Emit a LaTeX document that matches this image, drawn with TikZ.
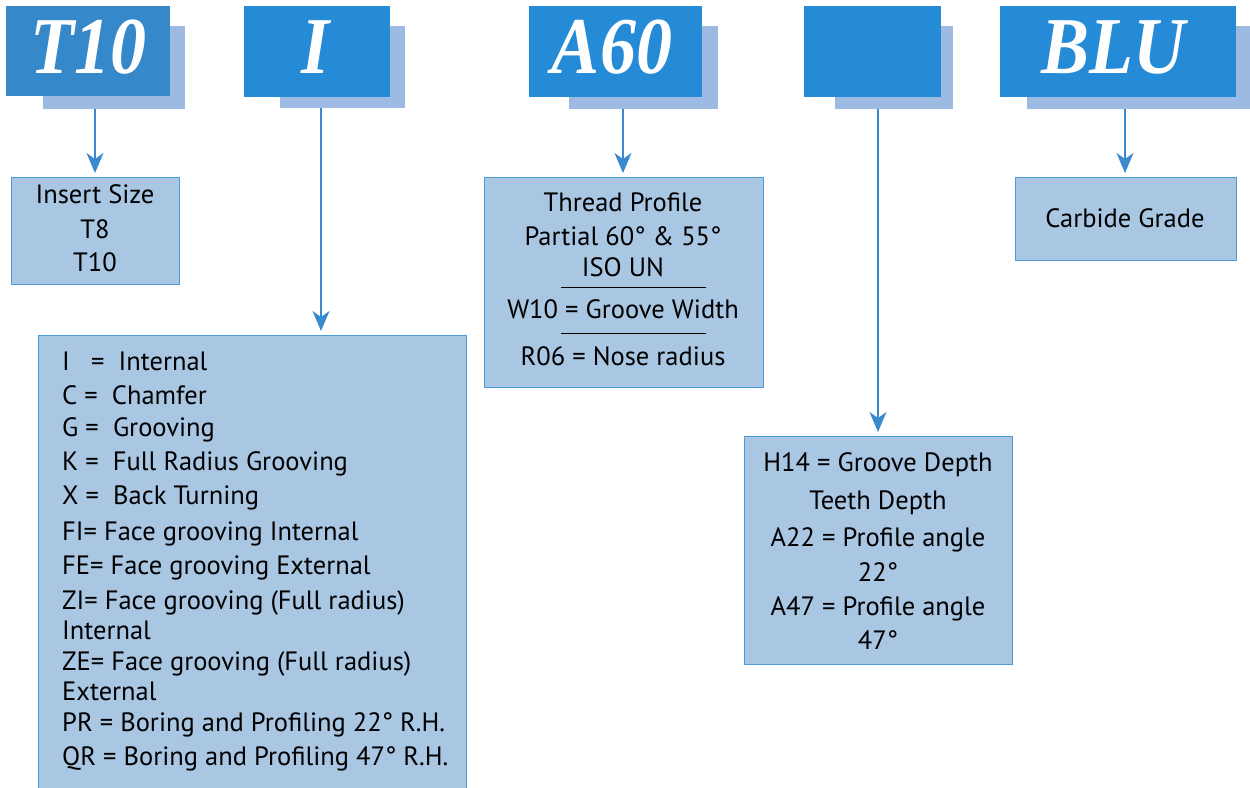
\documentclass[tikz,border=0pt]{standalone}
\usepackage{fontspec}
\setmainfont{PT Sans}
\newfontfamily\titlefont{Liberation Serif}
\usetikzlibrary{arrows.meta}
\definecolor{hdr}{HTML}{268BD7}
\definecolor{hdrdark}{HTML}{3589CA}
\definecolor{shad}{HTML}{9DBAE2}
\definecolor{boxfill}{HTML}{A9C6E3}
\definecolor{boxline}{HTML}{4A9BD9}
\definecolor{arrc}{HTML}{3A8AD0}
\newcommand{\hdrlabel}[1]{\scalebox{1}[1.12]{#1}}
\tikzset{
  shadowbox/.style={fill=shad, draw=none, anchor=north west, inner sep=0pt},
  hdrbox/.style={fill=hdr, draw=none, anchor=north west, inner sep=0pt},
  hdrtext/.style={text=white, inner sep=0pt, font=\titlefont\bfseries\itshape\fontsize{72}{72}\selectfont},
  infobox/.style={fill=boxfill, draw=boxline, line width=1pt, anchor=north west, inner sep=0pt},
  infotext/.style={inner sep=0pt, text=black, font=\fontsize{26.5}{34}\selectfont},
  arr/.style={draw=arrc, line width=1.6pt, shorten >=4pt, -{Stealth[length=20pt,width=17pt,inset=6pt]}},
  rule/.style={draw=black, line width=1pt}
}
\begin{document}
\begin{tikzpicture}[x=1pt,y=-1pt]
\useasboundingbox (0,0) rectangle (1250,787);
% header shadows
\node[shadowbox, minimum width=142pt, minimum height=83pt] (s1) at (43,26) {};
\node[shadowbox, minimum width=125pt, minimum height=82pt] (s2) at (280,26) {};
\node[shadowbox, minimum width=149pt, minimum height=83pt] (s3) at (569,26) {};
\node[shadowbox, minimum width=118pt, minimum height=83pt] (s4) at (835,26) {};
\node[shadowbox, minimum width=223pt, minimum height=83pt] (s5) at (1027,26) {};
% header boxes
\node[hdrbox, fill=hdrdark, minimum width=164pt, minimum height=90pt] (h1) at (6,6) {};
\node[hdrbox, minimum width=146pt, minimum height=91pt] (h2) at (244,6) {};
\node[hdrbox, minimum width=173pt, minimum height=91pt] (h3) at (529,6) {};
\node[hdrbox, minimum width=137pt, minimum height=91pt] (h4) at (804,6) {};
\node[hdrbox, minimum width=236pt, minimum height=91pt] (h5) at (1000,6) {};
\node[hdrtext] (t1) at (88,47) {\hdrlabel{T10}};
\node[hdrtext] (t2) at (316,47) {\hdrlabel{I}};
\node[hdrtext] (t3) at (612,47) {\hdrlabel{A60}};
\node[hdrtext] (t5) at (1113,47) {\hdrlabel{BLU}};
% info boxes
\node[infobox, minimum width=168pt, minimum height=107pt] (b1) at (11,177) {};
\node[infobox, minimum width=428pt, minimum height=460pt] (b2) at (38,335) {};
\node[infobox, minimum width=279pt, minimum height=210pt] (b3) at (484,177) {};
\node[infobox, minimum width=268pt, minimum height=228pt] (b4) at (744,436) {};
\node[infobox, minimum width=221pt, minimum height=83pt] (b5) at (1015,177) {};
% texts box 1
\node[infotext] (x1a) at (95,194) {Insert Size};
\node[infotext] (x1b) at (95,229) {T8};
\node[infotext] (x1c) at (95,262) {T10};
% texts box 2
\node[infotext, anchor=west] (x2a) at (62,361) {I\ \ \ =\ \ Internal};
\node[infotext, anchor=west] (x2b) at (62,395) {C =\ \ Chamfer};
\node[infotext, anchor=west] (x2c) at (62,430) {G =\ \ Grooving};
\node[infotext, anchor=west] (x2d) at (62,464) {K =\ \ Full Radius Grooving};
\node[infotext, anchor=west] (x2e) at (62,498) {X =\ \ Back Turning};
\node[infotext, anchor=west] (x2f) at (62,534) {FI= Face grooving Internal};
\node[infotext, anchor=west] (x2g) at (62,568) {FE= Face grooving External};
\node[infotext, anchor=west] (x2h) at (62,603) {ZI= Face grooving (Full radius)};
\node[infotext, anchor=west] (x2i) at (62,630) {Internal};
\node[infotext, anchor=west] (x2j) at (62,664) {ZE= Face grooving (Full radius)};
\node[infotext, anchor=west] (x2k) at (62,691) {External};
\node[infotext, anchor=west] (x2l) at (62,725) {PR = Boring and Profiling 22° R.H.};
\node[infotext, anchor=west] (x2m) at (62,759) {QR = Boring and Profiling 47° R.H.};
% texts box 3
\node[infotext] (x3a) at (623,202) {Thread Profile};
\node[infotext] (x3b) at (623,236) {Partial 60° \& 55°};
\node[infotext] (x3c) at (623,267) {ISO UN};
\node[infotext] (x3d) at (623,309) {W10 = Groove Width};
\node[infotext] (x3e) at (623,356) {R06 = Nose radius};
\coordinate (r1a) at (561,287); \coordinate (r1b) at (706,287);
\coordinate (r2a) at (561,333); \coordinate (r2b) at (706,333);
\draw[rule] (r1a) -- (r1b);
\draw[rule] (r2a) -- (r2b);
% texts box 4
\node[infotext] (x4a) at (878,465) {H14 = Groove Depth};
\node[infotext] (x4b) at (878,503) {Teeth Depth};
\node[infotext] (x4c) at (878,540) {A22 = Profile angle};
\node[infotext] (x4d) at (878,572) {22°};
\node[infotext] (x4e) at (878,609) {A47 = Profile angle};
\node[infotext] (x4f) at (878,640) {47°};
% text box 5
\node[infotext] (x5a) at (1125,218) {Carbide Grade};
% arrows
\coordinate (a1) at (95,109);
\coordinate (a2) at (321,108);
\coordinate (a3) at (623,109);
\coordinate (a4) at (878,109);
\coordinate (a5) at (1125,109);
\draw[arr] (a1) -- (a1 |- b1.north);
\draw[arr] (a2) -- (a2 |- b2.north);
\draw[arr] (a3) -- (a3 |- b3.north);
\draw[arr] (a4) -- (a4 |- b4.north);
\draw[arr] (a5) -- (a5 |- b5.north);
\end{tikzpicture}
\end{document}
